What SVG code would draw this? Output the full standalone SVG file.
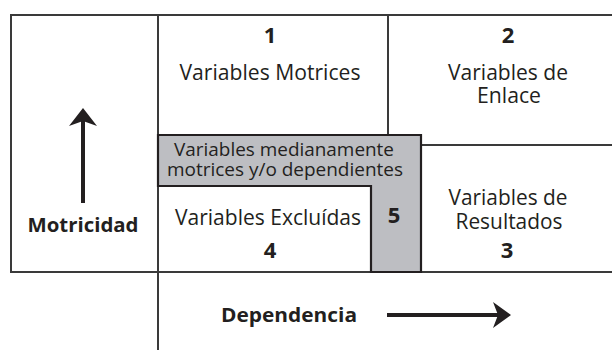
<svg xmlns="http://www.w3.org/2000/svg" width="612" height="350" viewBox="0 0 612 350">
<defs>
<style>
.ln{stroke:#3a3a3a;stroke-width:2;fill:none}
.t{font-family:"Open Sans","Noto Sans","Liberation Sans",sans-serif;font-size:21px;fill:#231f20;text-anchor:middle}
.b{font-family:"Open Sans","Noto Sans","Liberation Sans",sans-serif;font-size:22px;font-weight:bold;fill:#231f20;text-anchor:middle}
.lb{font-family:"Open Sans","Noto Sans","Liberation Sans",sans-serif;font-size:20px;font-weight:bold;fill:#231f20;text-anchor:middle}
.m{font-family:"Open Sans","Noto Sans","Liberation Sans",sans-serif;font-size:18.5px;fill:#231f20;text-anchor:middle}
</style>
</defs>
<rect width="612" height="350" fill="#ffffff"/>
<g id="grid">
<path class="ln" d="M612 15 H11 V272 H612"/>
<path class="ln" d="M158 15 V350"/>
<path class="ln" d="M388 15 V135"/>
<path class="ln" d="M421 145 H612"/>
</g>
<g id="node5">
<path d="M158 135 H421 V272 H371 V186 H158 Z" fill="#bdbec2" stroke="#231f20" stroke-width="2.2"/>
<text class="m" x="284" y="156" textLength="220" lengthAdjust="spacingAndGlyphs">Variables medianamente</text>
<text class="m" x="285" y="176" textLength="236" lengthAdjust="spacingAndGlyphs">motrices y/o dependientes</text>
<text class="b" x="394" y="223">5</text>
</g>
<g id="node1">
<text class="b" x="270" y="43">1</text>
<text class="t" x="270" y="80" textLength="181" lengthAdjust="spacingAndGlyphs">Variables Motrices</text>
</g>
<g id="node2">
<text class="b" x="508" y="43">2</text>
<text class="t" x="508" y="80" textLength="120" lengthAdjust="spacingAndGlyphs">Variables de</text>
<text class="t" x="509" y="103" textLength="64" lengthAdjust="spacingAndGlyphs">Enlace</text>
</g>
<g id="node3">
<text class="t" x="508" y="205" textLength="119" lengthAdjust="spacingAndGlyphs">Variables de</text>
<text class="t" x="509" y="229" textLength="107" lengthAdjust="spacingAndGlyphs">Resultados</text>
<text class="b" x="507" y="258">3</text>
</g>
<g id="node4">
<text class="t" x="268" y="225" textLength="186" lengthAdjust="spacingAndGlyphs">Variables Excluídas</text>
<text class="b" x="270" y="258">4</text>
</g>
<g id="axes">
<text class="lb" x="83" y="232" textLength="111" lengthAdjust="spacingAndGlyphs">Motricidad</text>
<path d="M83 203 V118" stroke="#231f20" stroke-width="4" fill="none"/>
<path d="M83 108 L97 126 L83 121 L69 126 Z" fill="#231f20"/>
<text class="lb" x="289" y="322" textLength="136" lengthAdjust="spacingAndGlyphs">Dependencia</text>
<path d="M387 315 H500" stroke="#231f20" stroke-width="4" fill="none"/>
<path d="M511 315 L493 302 L498 315 L493 328 Z" fill="#231f20"/>
</g>
</svg>
